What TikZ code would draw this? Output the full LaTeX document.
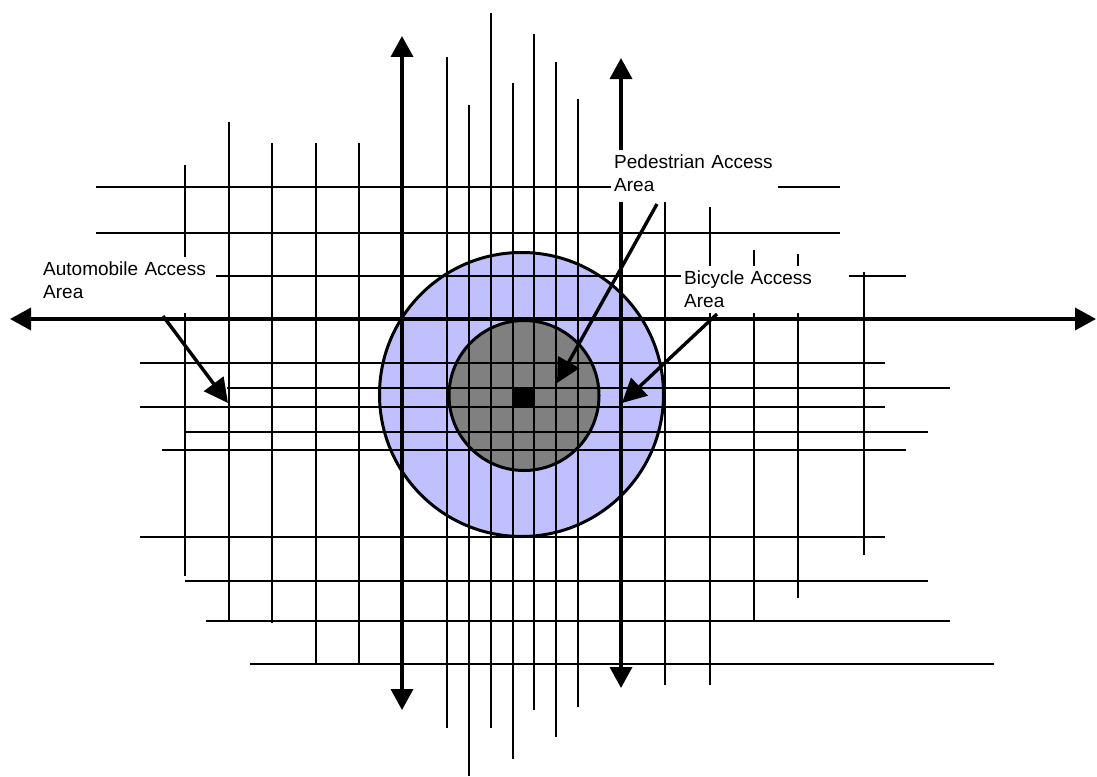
\documentclass[tikz,border=0pt]{standalone}
\usepackage{fontspec}
\setmainfont{Liberation Sans}
\usetikzlibrary{arrows.meta}

\definecolor{bikeblue}{RGB}{192,192,255}
\definecolor{walkgray}{RGB}{128,128,128}

\tikzset{
  grid line/.style={line width=1.8pt},
  road/.style={line width=3.6pt,
    {Triangle[length=21pt,width=22pt]}-{Triangle[length=21pt,width=22pt]}},
  pointer/.style={line width=3.4pt,-{Triangle[length=24pt,width=24pt]}},
  zone/.style={line width=3pt},
  labelbox/.style={fill=white,inner xsep=3pt,inner ysep=5pt,anchor=north west,
    align=left,font=\fontsize{19}{23}\selectfont}
}

\begin{document}
\begin{tikzpicture}[x=1pt,y=-1pt]
  \useasboundingbox (0,0) rectangle (1097,776);

  % access zones
  \fill[bikeblue] (521.5,394.5) circle (142pt);
  \fill[walkgray] (524,395.5) circle (75pt);

  % street grid
  \foreach \x/\ya/\yb in {185/165/576, 229/122/620, 272/143/623, 316/143/664,
      359/143/664, 447/57/728, 469/105/776, 491/13/728, 513/83/759, 534/34/710,
      556/62/737, 578/99/707, 665/190/685, 710/207/685, 754/250/620,
      798/254/598, 864/272/555}
    \draw[grid line] (\x,\ya) -- (\x,\yb);
  \foreach \y/\xa/\xb in {187/96/840, 233/96/840, 276/200/906, 363/140/885,
      388/227/950, 407/140/885, 432/185/928, 450/162/906, 537/140/885,
      581/185/928, 621/206/950, 664/250/994}
    \draw[grid line] (\xa,\y) -- (\xb,\y);

  \draw[zone] (521.5,394.5) circle (142pt);
  \draw[zone] (524,395.5) circle (75pt);
  \fill (513,388) rectangle (534,407);

  % main roads
  \coordinate (roadW) at (10,319);
  \coordinate (roadE) at (1096,319);
  \coordinate (roadNa) at (402,36);
  \coordinate (roadSa) at (402,710);
  \coordinate (roadNb) at (621,58);
  \coordinate (roadSb) at (621,688);
  \draw[road] (roadW) -- (roadE);
  \draw[road] (roadNa) -- (roadSa);
  \draw[road] (roadNb) -- (roadSb);

  % pointers
  \coordinate (autoTail) at (163,316);
  \coordinate (autoTip) at (228,403);
  \coordinate (walkTail) at (657,204);
  \coordinate (walkTip) at (557,383);
  \coordinate (bikeTail) at (717,314);
  \coordinate (bikeTip) at (622,403);
  \draw[pointer] (autoTail) -- (autoTip);
  \draw[pointer] (walkTail) -- (walkTip);
  \draw[pointer] (bikeTail) -- (bikeTip);

  % labels
  \node[labelbox,text width=170pt] (auto) at (40,257)
    {Automobile Access\\Area\rule[-9pt]{0pt}{9pt}};
  \node[labelbox,text width=161pt] (walk) at (611,150)
    {Pedestrian Access\\Area\rule[-5pt]{0pt}{5pt}};
  \node[labelbox,text width=162pt] (bike) at (681,266)
    {Bicycle Access\\Area};
\end{tikzpicture}
\end{document}
